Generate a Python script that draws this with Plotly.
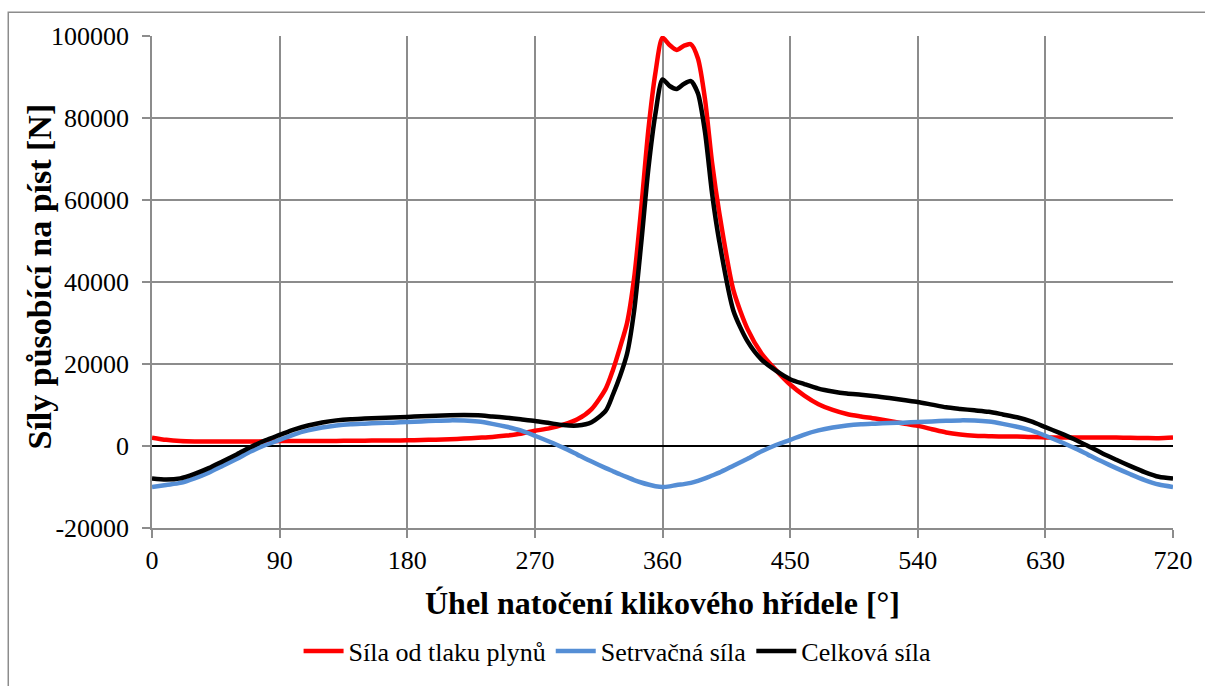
import plotly.graph_objects as go

angles = [0, 10, 20, 30, 40, 50, 60, 70, 80, 90, 100, 110, 120, 130, 140, 150, 160, 170, 180,
          190, 200, 210, 220, 230, 240, 250, 260, 270, 280, 290, 300, 310, 320,
          325, 330, 335, 340, 345, 350, 355, 360, 365, 370, 375, 380, 385, 390, 395, 400,
          410, 420, 430, 440, 450, 460, 470, 480, 490, 500, 510, 520, 530, 540,
          550, 560, 570, 580, 590, 600, 610, 620, 630, 640, 650, 660, 670, 680, 690, 700, 710, 720]

gas_force = [2050, 1500, 1200, 1100, 1100, 1100, 1100, 1100, 1150, 1200, 1200, 1200, 1250, 1250, 1300, 1300, 1350, 1350, 1400,
             1450, 1550, 1650, 1800, 2000, 2200, 2550, 3000, 3700, 4300, 5200, 6500, 9000, 14000,
             18500, 24000, 30000, 41000, 58000, 77000, 91000, 99600, 97800, 96600, 97600, 98000, 94500, 84500, 69000, 57000,
             38000, 28500, 22500, 18500, 15000, 12300, 10200, 8800, 7800, 7200, 6700, 6100, 5500, 4900,
             4100, 3300, 2800, 2500, 2400, 2300, 2300, 2200, 2100, 2100, 2100, 2100, 2050, 2050, 2000, 1950, 1900, 2050]

inertia_force = [-10000, -9500, -9000, -7900, -6500, -4800, -3100, -1300, 250, 1500, 2800, 3800, 4500, 5000, 5300, 5450, 5600, 5700, 5850,
                 6000, 6150, 6250, 6200, 5950, 5400, 4700, 3800, 2500, 1100, -400, -2100, -3800, -5400,
                 -6150, -6900, -7600, -8300, -8900, -9400, -9800, -10000, -9850, -9500, -9300, -9000, -8500, -7900, -7200, -6500,
                 -4800, -3100, -1300, 250, 1500, 2800, 3800, 4500, 5000, 5300, 5450, 5600, 5700, 5850,
                 6000, 6150, 6250, 6200, 5950, 5400, 4700, 3800, 2500, 1100, -400, -2100, -3800, -5400, -6900, -8300, -9400, -10000]

total_force = [-7950, -8200, -7900, -6800, -5400, -3700, -2000, -200, 1400, 2700, 4000, 5000, 5750, 6250, 6550, 6700, 6850, 6950, 7100,
               7250, 7400, 7500, 7550, 7500, 7200, 6900, 6500, 6100, 5600, 5100, 5000, 5800, 8600,
               12500, 17000, 22500, 33000, 49500, 67500, 81000, 89400, 87800, 87100, 88300, 89000, 86000, 76500, 61500, 50000,
               33000, 25500, 21000, 18400, 16300, 15100, 14000, 13300, 12800, 12500, 12150, 11700, 11200, 10750,
               10100, 9450, 9050, 8700, 8350, 7700, 7000, 6000, 4600, 3200, 1700, 0, -1750, -3350, -4900, -6350, -7500, -7950]

series_names = ["Síla od tlaku plynů", "Setrvačná síla", "Celková síla"]
series_colors = ["#ff0000", "#558ed5", "#000000"]

x_ticks = [0, 90, 180, 270, 360, 450, 540, 630, 720]
y_ticks = [-20000, 0, 20000, 40000, 60000, 80000, 100000]

x_title = "<b>Úhel natočení klikového hřídele [°]</b>"
y_title = "<b>Síly působící na píst [N]</b>"

FONT = "Liberation Serif"
GRID = "#8c8c8c"

fig = go.Figure()
for name, vals, col in zip(series_names, [gas_force, inertia_force, total_force], series_colors):
    fig.add_trace(go.Scatter(
        x=angles, y=vals, name=name, mode="lines",
        line=dict(color=col, width=4.5, shape="spline", smoothing=0.7),
    ))

fig.update_layout(
    width=1205, height=686,
    margin=dict(l=152, r=23, t=36, b=155),
    paper_bgcolor="white", plot_bgcolor="white",
    font=dict(family=FONT, size=26, color="black"),
    showlegend=True,
    legend=dict(orientation="h", x=0.456, xanchor="center", y=-0.25, yanchor="middle",
                font=dict(family=FONT, size=26, color="black"), itemwidth=40, tracegroupgap=0,
                bgcolor="rgba(0,0,0,0)"),
    xaxis=dict(
        range=[0, 720], tickvals=x_ticks, ticktext=[str(v) for v in x_ticks],
        showgrid=True, gridcolor=GRID, gridwidth=1.5,
        showline=True, linecolor=GRID, linewidth=1.5,
        ticks="outside", ticklen=8, tickcolor=GRID, tickwidth=1.5,
        zeroline=False,
        tickfont=dict(family=FONT, size=26, color="black"),
        title=dict(text=x_title, font=dict(family=FONT, size=32, color="black"), standoff=18),
    ),
    yaxis=dict(
        range=[-20000, 100000], tickvals=y_ticks, ticktext=[str(v) for v in y_ticks],
        showgrid=True, gridcolor=GRID, gridwidth=1.5,
        showline=True, linecolor=GRID, linewidth=1.5,
        ticks="outside", ticklen=8, tickcolor=GRID, tickwidth=1.5,
        zeroline=True, zerolinecolor="black", zerolinewidth=2,
        tickfont=dict(family=FONT, size=26, color="black"),
        ticklabelstandoff=8,
    ),
    annotations=[dict(text=y_title, xref="paper", yref="paper",
                      x=(39 - 152) / 1030, y=(531 - 278) / 495,
                      xanchor="center", yanchor="middle", textangle=-90, showarrow=False,
                      font=dict(family=FONT, size=34, color="black"))],
    shapes=[dict(type="rect", xref="paper", yref="paper",
                 x0=(7 - 152) / 1030, x1=1.2, y0=-0.6, y1=(531 - 12) / 495,
                 line=dict(color=GRID, width=1.5), fillcolor="rgba(0,0,0,0)", layer="below")],
)

fig.write_html("out.html")
